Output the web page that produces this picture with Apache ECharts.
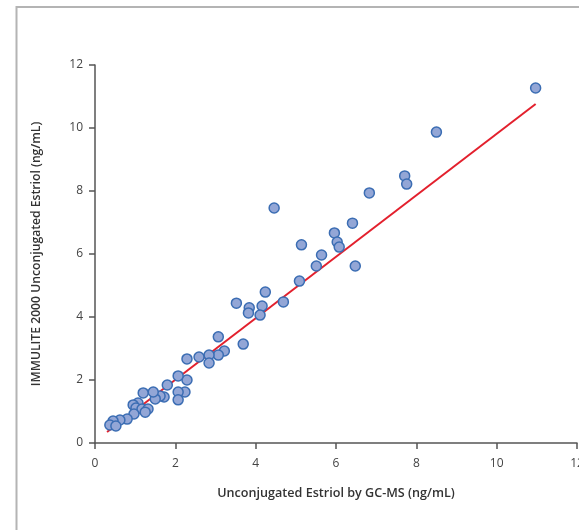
<!DOCTYPE html>
<html>
<head>
<meta charset="utf-8">
<script src="https://cdn.jsdelivr.net/npm/echarts@6/dist/echarts.min.js"></script>
<style>
  html, body { margin: 0; padding: 0; background: #fff; }
  #chart { width: 579px; height: 530px; }
</style>
</head>
<body>
<div id="chart"></div>
<script>
// GC-MS (x) vs IMMULITE 2000 (y), ng/mL
const gcms = [
  10.97, 8.50, 7.71, 7.76, 6.83, 4.46, 6.41, 5.96, 6.03, 6.08,
  5.14, 5.64, 5.51, 6.48, 5.09, 4.24, 3.52, 4.69, 4.16, 3.84,
  3.82, 4.11, 3.69, 3.07, 3.22, 3.07, 2.84, 2.59, 2.29, 2.84,
  2.29, 2.07, 1.80, 2.24, 2.07, 2.07, 1.72, 1.62, 1.50, 1.45,
  1.20, 1.07, 0.95, 1.02, 1.17, 1.32, 0.97, 0.80, 0.62, 0.45,
  0.37, 0.52, 1.25
];
const immulite = [
  11.27, 9.87, 8.48, 8.22, 7.94, 7.46, 6.98, 6.67, 6.38, 6.22,
  6.29, 5.97, 5.62, 5.62, 5.14, 4.79, 4.44, 4.48, 4.35, 4.29,
  4.13, 4.06, 3.14, 3.37, 2.92, 2.79, 2.79, 2.73, 2.67, 2.54,
  2.00, 2.13, 1.84, 1.62, 1.62, 1.37, 1.46, 1.49, 1.40, 1.62,
  1.59, 1.27, 1.21, 1.11, 1.08, 1.08, 0.92, 0.76, 0.73, 0.70,
  0.57, 0.54, 0.98
];
// fitted line endpoints
const fitX = [0.30, 10.97];
const fitY = [0.35, 10.76];
const xTicks = [0, 2, 4, 6, 8, 10, 12];
const yTicks = [0, 2, 4, 6, 8, 10, 12];

const chart = echarts.init(document.getElementById('chart'), null, { renderer: 'canvas' });
const font = '"Open Sans", "Noto Sans", sans-serif';
const axisLineStyle = { color: '#555', width: 1.5 };

chart.setOption({
  animation: false,
  backgroundColor: '#fff',
  graphic: [{
    type: 'rect',
    shape: { x: 16.5, y: 7, width: 700, height: 700 },
    style: { fill: 'none', stroke: '#b4b4b4', lineWidth: 2 },
    silent: true
  }],
  grid: { left: 95, right: 2, top: 65, bottom: 87, containLabel: false, outerBoundsMode: 'none' },
  xAxis: {
    type: 'value',
    min: xTicks[0], max: xTicks[xTicks.length - 1], interval: 2,
    name: 'Unconjugated Estriol by GC-MS (ng/mL)',
    nameLocation: 'middle', nameGap: 44,
    nameTextStyle: { fontFamily: font, fontSize: 12.6, fontWeight: 600, color: '#333' },
    axisLine: { show: true, onZero: false, lineStyle: axisLineStyle },
    axisTick: { show: true, length: 6, inside: false, lineStyle: axisLineStyle },
    axisLabel: { margin: 15, fontFamily: font, fontSize: 12, color: '#444', showMaxLabel: true },
    splitLine: { show: false }
  },
  yAxis: {
    type: 'value',
    min: yTicks[0], max: yTicks[yTicks.length - 1], interval: 2,
    name: 'IMMULITE 2000 Unconjugated Estriol (ng/mL)',
    nameLocation: 'middle', nameGap: 52, nameRotate: 90,
    nameTextStyle: { fontFamily: font, fontSize: 12.2, fontWeight: 600, color: '#333' },
    axisLine: { show: true, onZero: false, lineStyle: axisLineStyle },
    axisTick: { show: true, length: 6, inside: false, lineStyle: axisLineStyle },
    axisLabel: { margin: 12, fontFamily: font, fontSize: 12, color: '#444' },
    splitLine: { show: false }
  },
  series: [
    {
      type: 'line',
      data: fitX.map((x, i) => [x, fitY[i]]),
      showSymbol: false,
      symbol: 'none',
      lineStyle: { color: '#e3202d', width: 2 },
      z: 2
    },
    {
      type: 'scatter',
      data: gcms.map((x, i) => [x, immulite[i]]),
      symbol: 'circle',
      symbolSize: 10,
      itemStyle: { color: '#93a6d6', borderColor: '#3b6db3', borderWidth: 1.5, opacity: 1 },
      z: 3
    }
  ]
});
</script>
</body>
</html>
